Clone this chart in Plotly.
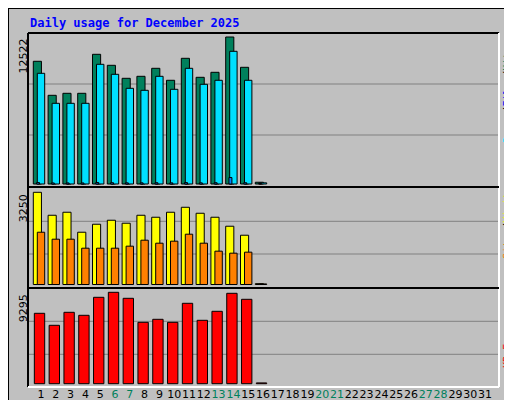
import plotly.graph_objects as go

days = list(range(1, 32))
hits = [10453, 7556, 7726, 7726, 11048, 10111, 9004, 9174, 9856, 8834, 10708, 9089, 9515, 12522, 9941, 150]
files = [9430, 6874, 6874, 6874, 10196, 9345, 8152, 7982, 9174, 8067, 9856, 8493, 8834, 11304, 8834, 100]
pages = [120, 90, 90, 90, 130, 110, 100, 100, 110, 100, 120, 100, 110, 550, 110, 50]
visits = [3250, 2441, 2547, 1843, 2124, 2265, 2160, 2441, 2371, 2547, 2722, 2511, 2371, 2054, 1737, 30]
sites = [1843, 1597, 1597, 1280, 1280, 1280, 1351, 1562, 1456, 1527, 1773, 1456, 1175, 1104, 1140, 20]
kbytes = [7159, 5939, 7261, 6956, 8787, 9295, 8685, 6244, 6549, 6244, 8176, 6448, 7363, 9193, 8583, 80]
weekend = [6, 7, 13, 14, 20, 21, 27, 28]

W, H = 512, 400
def px(x): return x / W
def py(y): return 1 - y / H

fig = go.Figure()
d = days[:len(hits)]
line = dict(color="black", width=1)
fig.add_bar(x=d, y=hits, marker=dict(color="#00805c", line=line), width=0.55, offset=-0.52, xaxis="x", yaxis="y")
fig.add_bar(x=d, y=files, marker=dict(color="#00e0ff", line=line), width=0.5, offset=-0.25, xaxis="x", yaxis="y")
fig.add_bar(x=d, y=pages, marker=dict(color="#0080ff", line=line), width=0.2, offset=-0.3, xaxis="x", yaxis="y")
fig.add_bar(x=d, y=visits, marker=dict(color="#ffff00", line=line), width=0.55, offset=-0.52, xaxis="x2", yaxis="y2")
fig.add_bar(x=d, y=sites, marker=dict(color="#ff8000", line=line), width=0.5, offset=-0.25, xaxis="x2", yaxis="y2")
fig.add_bar(x=d, y=kbytes, marker=dict(color="#ff0000", line=line), width=0.7, offset=-0.45, xaxis="x3", yaxis="y3")

xr = [1 - 13/14.8, 31 + 14/14.8]
def yrange(top, bot, ymax_px, base_px, vmax):
    per = vmax / (base_px - ymax_px)
    return [-(bot - base_px) * per, vmax + (ymax_px - top) * per]

panels = [(25, 179, 29, 176, max(hits)), (180, 279, 184.3, 276.5, max(visits)), (281, 378, 284.3, 375.7, max(kbytes))]
for i, (top, bot, ym, bp, vm) in enumerate(panels):
    n = "" if i == 0 else str(i + 1)
    fig.layout["xaxis" + n] = dict(domain=[px(20), px(491)], range=xr, anchor="y" + n, showgrid=False,
                                   zeroline=False, showticklabels=False, ticks="", automargin=False)
    fig.layout["yaxis" + n] = dict(domain=[py(bot), py(top)], range=yrange(top, bot, ym, bp, vm), anchor="x" + n,
                                   showgrid=False, zeroline=False, showticklabels=False, automargin=False)
    fig.add_annotation(x=px(15), y=py(ym), xref="paper", yref="paper", text=str(vm), textangle=-90,
                       showarrow=False, xanchor="center", yanchor="top",
                       font=dict(family="DejaVu Sans", size=11, color="black"))

fig.layout.xaxis3.update(showticklabels=True, tickvals=days, tickangle=0,
    ticktext=[f'<span style="color:{"#00805c" if dd in weekend else "black"}">{dd}</span>' for dd in days],
    tickfont=dict(family="DejaVu Sans", size=11, color="black"), ticklen=0)

shapes = []
grid = [76, 127, 213.3, 246, 313.3, 346.3]
for g in grid:
    shapes.append(dict(type="line", xref="paper", yref="paper", x0=px(20), x1=px(491), y0=py(g), y1=py(g),
                       line=dict(color="#808080", width=1), layer="below"))
shapes.append(dict(type="rect", xref="paper", yref="paper", x0=0, x1=1, y0=0, y1=1, line=dict(color="black", width=2)))
shapes.append(dict(type="rect", xref="paper", yref="paper", x0=px(505), x1=px(511), y0=py(393), y1=py(2),
                   fillcolor="#808080", line=dict(width=0)))
shapes.append(dict(type="rect", xref="paper", yref="paper", x0=px(2), x1=px(511), y0=py(399), y1=py(393),
                   fillcolor="#808080", line=dict(width=0)))
shapes += [
    dict(type="line", xref="paper", yref="paper", x0=px(20), x1=px(491), y0=py(25), y1=py(25), line=dict(color="black", width=2)),
    dict(type="line", xref="paper", yref="paper", x0=px(20), x1=px(20), y0=py(25), y1=py(379), line=dict(color="black", width=2)),
    dict(type="line", xref="paper", yref="paper", x0=px(491), x1=px(491), y0=py(25), y1=py(379), line=dict(color="white", width=2)),
    dict(type="line", xref="paper", yref="paper", x0=px(20), x1=px(491), y0=py(379), y1=py(379), line=dict(color="white", width=2)),
    dict(type="line", xref="paper", yref="paper", x0=px(20), x1=px(491), y0=py(179), y1=py(179), line=dict(color="black", width=2)),
    dict(type="line", xref="paper", yref="paper", x0=px(20), x1=px(491), y0=py(280), y1=py(280), line=dict(color="black", width=2)),
]
fig.update_layout(shapes=shapes)

fig.add_annotation(x=px(20), y=py(15), xref="paper", yref="paper", text="<b>Daily usage for December 2025</b>",
                   showarrow=False, xanchor="left", yanchor="middle",
                   font=dict(family="DejaVu Sans Mono", size=12, color="#0000ff"))
side = [
    ('<span style="color:#00e0ff">Pages</span>/<span style="color:#0000ff">Files</span>/<span style="color:#00805c">Hits</span>', 87),
    ('<span style="color:#ff8000">Sites</span>/<span style="color:#ffff00">Visits</span>', 215),
    ('<span style="color:#ff0000">KB F</span>', 348),
]
for t, yy in side:
    fig.add_annotation(x=px(499), y=py(yy), xref="paper", yref="paper", text=t, textangle=-90, showarrow=False,
                       xanchor="center", yanchor="middle",
                       font=dict(family="DejaVu Sans Mono", size=10, color="black"))

fig.update_layout(width=W, height=H, margin=dict(l=0, r=0, t=0, b=0), paper_bgcolor="#c0c0c0",
                  plot_bgcolor="rgba(0,0,0,0)", showlegend=False, barmode="overlay")
fig.write_html("out.html")
